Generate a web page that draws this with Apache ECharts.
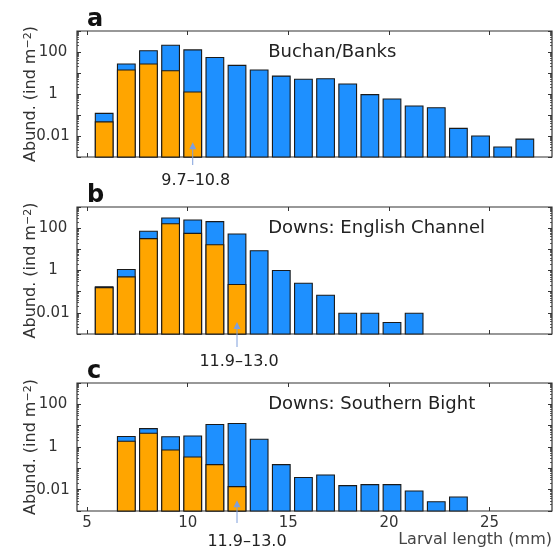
<!DOCTYPE html>
<html>
<head>
<meta charset="utf-8">
<script src="https://cdn.jsdelivr.net/npm/echarts@6/dist/echarts.min.js"></script>
<style>
  html, body { margin: 0; padding: 0; background: #fff; }
  #chart { width: 558px; height: 552px; }
</style>
</head>
<body>
<div id="chart"></div>
<script>
// 体长组中心 (mm)
var lenA = [5.85, 6.95, 8.05, 9.15, 10.25, 11.35, 12.45, 13.55, 14.65, 15.75, 16.85, 17.95, 19.05, 20.15, 21.25, 22.35, 23.45, 24.55, 25.65, 26.75];
var totalA = [0.12, 27, 114, 210, 126, 55, 23, 14, 7.1, 5.0, 5.3, 3.0, 0.93, 0.58, 0.27, 0.22, 0.023, 0.010, 0.0030, 0.0071];
var earlyA = [0.047, 14, 27, 12.8, 1.24];

var lenB = [5.85, 6.95, 8.05, 9.15, 10.25, 11.35, 12.45, 13.55, 14.65, 15.75, 16.85, 17.95, 19.05, 20.15, 21.25];
var totalB = [0.17, 1.11, 71, 303, 244, 203, 53, 8.6, 1.0, 0.25, 0.068, 0.0095, 0.0095, 0.0035, 0.0095];
var earlyB = [0.155, 0.50, 32, 163, 57, 16.5, 0.217];

var lenC = [6.95, 8.05, 9.15, 10.25, 11.35, 12.45, 13.55, 14.65, 15.75, 16.85, 17.95, 19.05, 20.15, 21.25, 22.35, 23.45];
var totalC = [3.1, 7.3, 3.0, 3.3, 11.4, 12.6, 2.3, 0.15, 0.037, 0.049, 0.0154, 0.0172, 0.0172, 0.0087, 0.0027, 0.0045];
var earlyC = [1.85, 4.4, 0.72, 0.34, 0.15, 0.0139];

var xTicks = [5, 10, 15, 20, 25];
var yLabels = [0.01, 1, 100];
var panelLetters = ['a', 'b', 'c'];
var panelNames = ['Buchan/Banks', 'Downs: English Channel', 'Downs: Southern Bight'];
var arrowX = [10.25, 12.45, 12.45];
var arrowText = ['9.7–10.8', '11.9–13.0', '11.9–13.0'];
var arrowTip = [0.005, 0.0037, 0.0032];

var lens = [lenA, lenB, lenC];
var totals = [totalA, totalB, totalC];
var earlys = [earlyA, earlyB, earlyC];

var FONT = 'DejaVu Sans';
var xMin = 4.5, xMax = 28.1;
var yMin = 0.001, yMax = 1000;
var halfW = 0.44; // 柱子半宽 (mm)
var blue = '#1e90ff', orange = '#ffa500';
var frame = '#333';

var grids = [
  { left: 77, top: 31, width: 475, height: 126 },
  { left: 77, top: 207, width: 475, height: 127 },
  { left: 77, top: 383, width: 475, height: 128 }
];
// 箭头位置 (px, 相对坐标轴底边)
var arrowBelow = [8, 13, 12];
var labelBelow = [24, 28, 31];
var labelDx = [3, 2, 10];

// 对数次刻度 (指数空间)
var minorLog = [];
for (var d = -3; d < 3; d++) {
  for (var k = 2; k <= 9; k++) minorLog.push(d + Math.log10(k));
}

function pairs(xs, ys) {
  var out = [];
  for (var i = 0; i < ys.length; i++) out.push([xs[i], ys[i]]);
  return out;
}

function barRender(color) {
  return function(params, api) {
    var x = api.value(0), v = api.value(1);
    var tl = api.coord([x - halfW, v]);
    var br = api.coord([x + halfW, yMin]);
    return {
      type: 'rect',
      shape: { x: tl[0], y: tl[1], width: br[0] - tl[0], height: br[1] - tl[1] },
      style: { fill: color, stroke: '#1a1a1a', lineWidth: 1.1 }
    };
  };
}

var xAxes = [], yAxes = [], series = [];
for (var p = 0; p < 3; p++) {
  var base = {
    type: 'value', gridIndex: p, min: xMin, max: xMax,
    axisLine: { show: false, onZero: false },
    splitLine: { show: false },
    axisTick: { inside: true, length: 4, customValues: xTicks, lineStyle: { color: frame } }
  };
  xAxes.push(Object.assign({}, base, {
    position: 'bottom',
    axisLabel: { show: p === 2, customValues: xTicks, margin: 5, fontSize: 15, fontFamily: FONT, color: '#333' }
  }));
  xAxes.push(Object.assign({}, base, { position: 'top', axisLabel: { show: false } }));

  yAxes.push({
    type: 'log', logBase: 10, gridIndex: p, position: 'left', min: yMin, max: yMax,
    axisLine: { show: false, onZero: false }, splitLine: { show: false },
    axisTick: { inside: true, length: 4, lineStyle: { color: frame } },
    axisLabel: {
      fontSize: 15, fontFamily: FONT, color: '#333', align: 'center', margin: 24,
      formatter: function(v) {
        for (var i = 0; i < yLabels.length; i++) {
          if (Math.abs(Math.log10(v) - Math.log10(yLabels[i])) < 1e-6) return String(yLabels[i]);
        }
        return '';
      }
    },
    name: 'Abund. (ind m{s|−2})', nameLocation: 'middle', nameGap: 38, nameMoveOverlap: false,
    nameTextStyle: { fontSize: 16, fontFamily: FONT, color: '#333',
      rich: { s: { fontSize: 11, fontFamily: FONT, color: '#333', verticalAlign: 'top' } } }
  });
  yAxes.push({
    type: 'log', logBase: 10, gridIndex: p, position: 'right', min: yMin, max: yMax,
    axisLine: { show: false, onZero: false }, splitLine: { show: false }, axisLabel: { show: false },
    axisTick: { inside: true, length: 4, lineStyle: { color: frame } }
  });
  ['left', 'right'].forEach(function(pos) {
    yAxes.push({
      type: 'value', gridIndex: p, position: pos, min: -3, max: 3,
      axisLine: { show: false, onZero: false }, splitLine: { show: false }, axisLabel: { show: false },
      axisTick: { inside: true, length: 2, customValues: minorLog, lineStyle: { color: frame, width: 0.8 } }
    });
  });

  series.push({
    type: 'custom', xAxisIndex: 2 * p, yAxisIndex: 4 * p,
    renderItem: barRender(blue), encode: { x: 0, y: 1 },
    data: pairs(lens[p], totals[p])
  });
  series.push({
    type: 'custom', xAxisIndex: 2 * p, yAxisIndex: 4 * p,
    renderItem: barRender(orange), encode: { x: 0, y: 1 },
    data: pairs(lens[p], earlys[p])
  });
}

var chart = echarts.init(document.getElementById('chart'), null, { renderer: 'canvas' });
chart.setOption({
  animation: false,
  grid: grids.map(function(g) {
    return Object.assign({ show: true, borderColor: frame, borderWidth: 1.2, backgroundColor: 'transparent' }, g);
  }),
  xAxis: xAxes,
  yAxis: yAxes,
  series: series
});

// 标注: 面板字母、海区名称、箭头
var graphics = [];
for (var p = 0; p < 3; p++) {
  var fin = { xAxisIndex: 2 * p, yAxisIndex: 4 * p };
  graphics.push({
    type: 'text', z: 100, x: 87, y: grids[p].top - 11,
    style: { text: panelLetters[p], font: 'bold 24px ' + FONT, fill: '#111', verticalAlign: 'middle' }
  });
  var nm = chart.convertToPixel(fin, [14, 100]);
  graphics.push({
    type: 'text', z: 100, x: nm[0], y: nm[1],
    style: { text: panelNames[p], font: '18px ' + FONT, fill: '#222', verticalAlign: 'middle' }
  });
  var tip = chart.convertToPixel(fin, [arrowX[p], arrowTip[p]]);
  var bot = chart.convertToPixel(fin, [arrowX[p], yMin]);
  var col = '#7f9fdc';
  graphics.push({
    type: 'line', z: 100,
    shape: { x1: tip[0], y1: bot[1] + arrowBelow[p], x2: tip[0], y2: tip[1] + 5 },
    style: { stroke: col, lineWidth: 1 }
  });
  graphics.push({
    type: 'polygon', z: 100,
    shape: { points: [[tip[0], tip[1]], [tip[0] - 3.5, tip[1] + 7], [tip[0] + 3.5, tip[1] + 7]] },
    style: { fill: col }
  });
  graphics.push({
    type: 'text', z: 100, x: tip[0] + labelDx[p], y: bot[1] + labelBelow[p],
    style: { text: arrowText[p], font: '16px ' + FONT, fill: '#222', align: 'center', verticalAlign: 'middle' }
  });
}
graphics.push({
  type: 'text', z: 100, right: 6, top: 532,
  style: { text: 'Larval length (mm)', font: '16px ' + FONT, fill: '#444' }
});
chart.setOption({ graphic: graphics });

window.addEventListener('resize', function() {
  chart.resize();
});
</script>
</body>
</html>
